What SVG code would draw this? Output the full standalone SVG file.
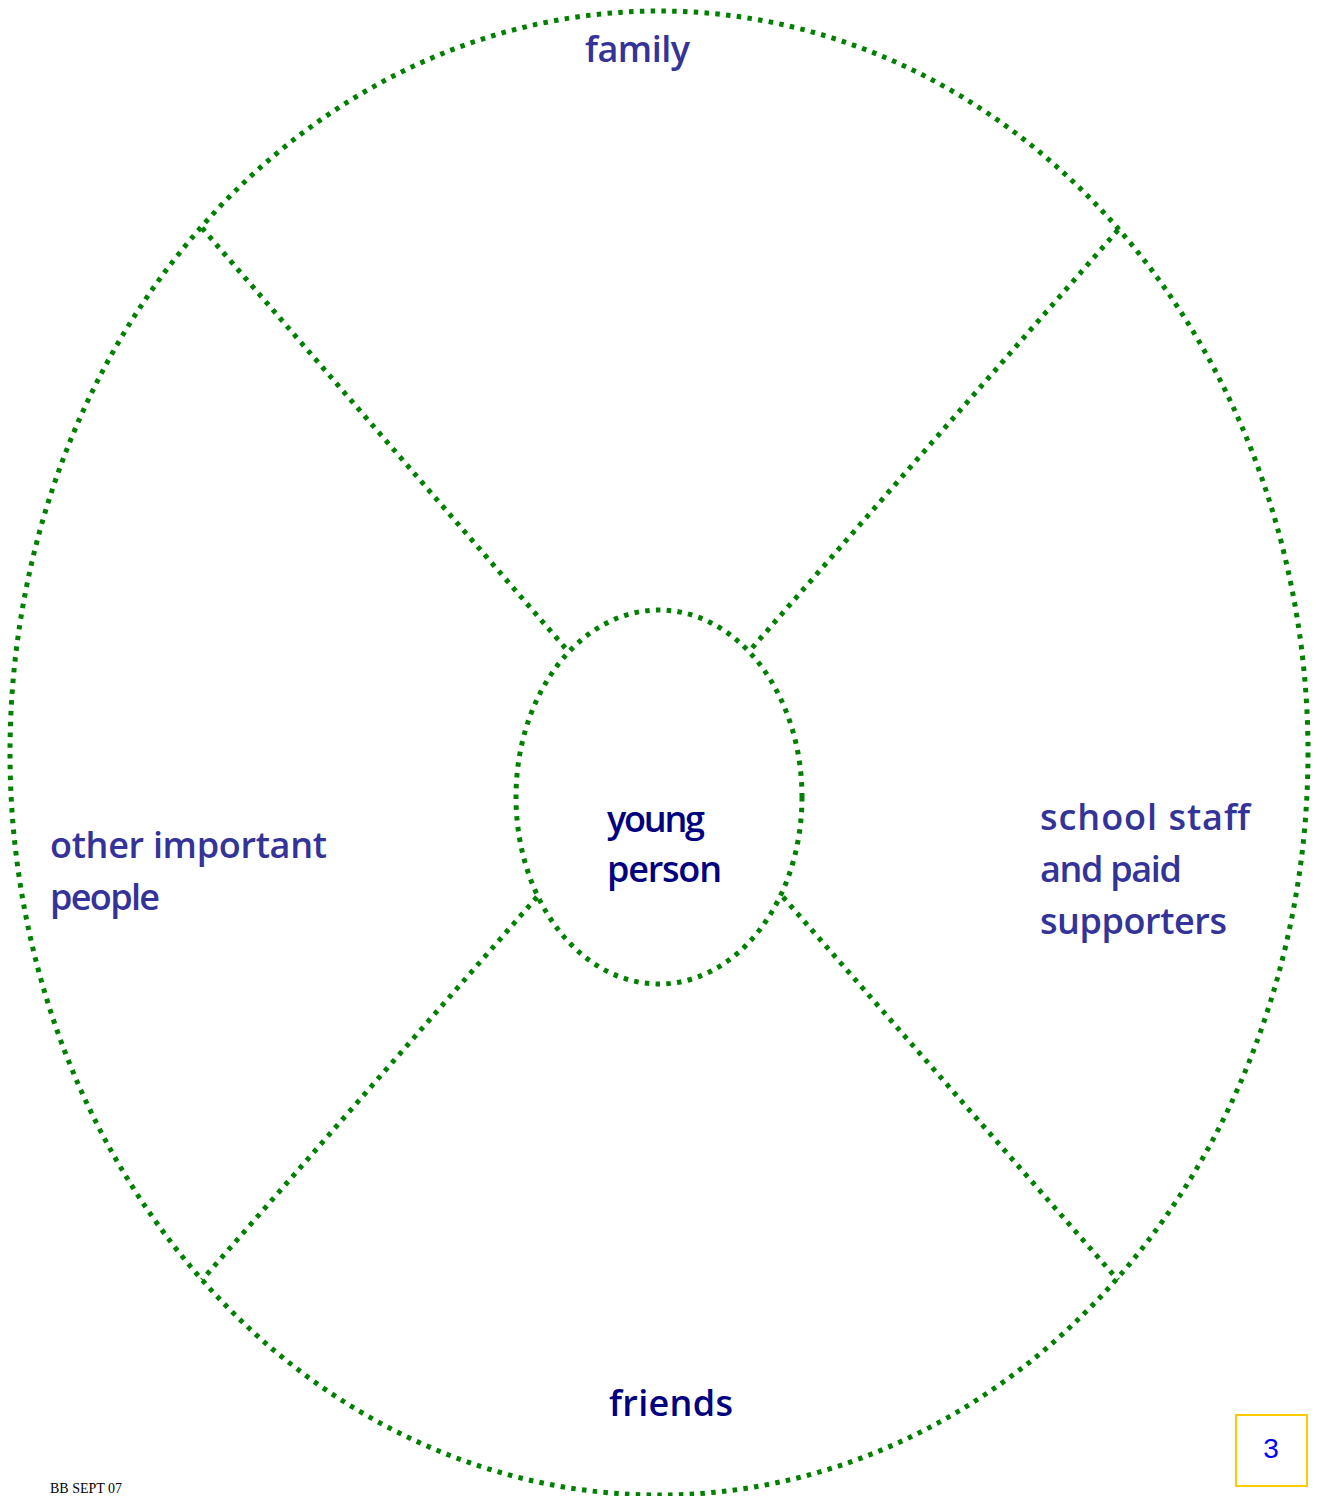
<svg xmlns="http://www.w3.org/2000/svg" width="1319" height="1496" viewBox="0 0 1319 1496">
<style>
.dot{fill:none;stroke:#008000;stroke-width:5;stroke-dasharray:4.5 6.3}
.lbl{font-family:"Open Sans","Liberation Sans",sans-serif;font-size:36px;fill:#333399;font-weight:600}
.dark{fill:#000080}
</style>
<rect width="1319" height="1496" fill="#ffffff"/>
<g id="outer"><ellipse class="dot" cx="659" cy="753" rx="649" ry="742"/></g>
<g id="connectors">
<line class="dot" x1="202" y1="228" x2="567" y2="650"/>
<line class="dot" x1="1118" y1="230" x2="752" y2="648"/>
<line class="dot" x1="537" y1="897" x2="202" y2="1280"/>
<line class="dot" x1="783" y1="897" x2="1118" y2="1280"/>
</g>
<g id="center"><ellipse class="dot" cx="659" cy="797" rx="143" ry="187" fill="#ffffff"/>
<text class="lbl dark" x="607" y="832" textLength="98">young</text>
<text class="lbl dark" x="607" y="882" textLength="115">person</text></g>
<g id="family"><text class="lbl" x="585" y="62" textLength="105">family</text></g>
<g id="other"><text class="lbl" x="50" y="858" textLength="277">other important</text>
<text class="lbl" x="50" y="910" textLength="110">people</text></g>
<g id="school"><text class="lbl" x="1040" y="830" textLength="210">school staff</text>
<text class="lbl" x="1040" y="882" textLength="142">and paid</text>
<text class="lbl" x="1040" y="934" textLength="187">supporters</text></g>
<g id="friends"><text class="lbl dark" x="609" y="1416" textLength="124">friends</text></g>
<g id="page"><rect x="1236" y="1415" width="71" height="71" fill="none" stroke="#FFCC00" stroke-width="2"/>
<text x="1271" y="1458" text-anchor="middle" font-family="Liberation Sans,sans-serif" font-size="28" fill="#0000FF">3</text></g>
<text x="50" y="1493" font-family="Liberation Serif,serif" font-size="14" fill="#000000">BB SEPT 07</text>
</svg>
